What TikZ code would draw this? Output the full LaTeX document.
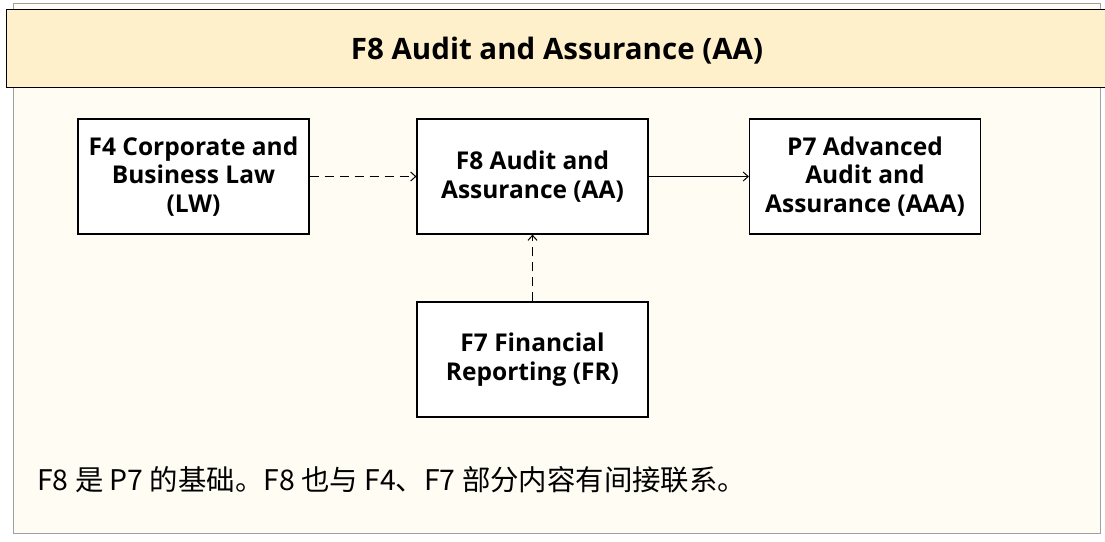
\documentclass[tikz,border=0pt]{standalone}
\usepackage{fontspec}
\setmainfont{Open Sans}
\newfontfamily\cjk{Noto Sans CJK SC}
\usetikzlibrary{arrows.meta}
\definecolor{titlefill}{HTML}{FFF0CC}
\definecolor{bodyfill}{HTML}{FFFCF4}
\definecolor{framegray}{HTML}{A0A0A0}
\tikzset{
  course/.style={draw=black, line width=1.2pt, fill=white, minimum width=231pt, minimum height=115pt,
    align=center, font=\bfseries\fontsize{24.5}{28.5}\selectfont, inner sep=0pt},
  link/.style={line width=1pt, -{Straight Barb[length=5pt,width=9pt]}},
  dashlink/.style={link, dash pattern=on 9pt off 6pt},
}
\begin{document}
\begin{tikzpicture}[x=1pt,y=-1pt]
\useasboundingbox (0,0) rectangle (1105,541);
\fill[white] (0,0) rectangle (1105,541);
\filldraw[fill=bodyfill, draw=framegray, line width=1pt] (13,3) rectangle (1100,533);
\filldraw[fill=titlefill, draw=black, line width=1pt] (6,9) rectangle (1110,87);
\node[font=\bfseries\fontsize{29.5}{34}\selectfont] (title) at (557,51) {F8 Audit and Assurance (AA)};
\node[course] (f4) at (193.5,176.5) {F4 Corporate and\\Business Law\\(LW)};
\node[course] (f8) at (532.5,176.5) {F8 Audit and\\Assurance (AA)};
\node[course] (p7) at (865,176.5) {P7 Advanced\\Audit and\\Assurance (AAA)};
\node[course] (f7) at (532.5,359.5) {F7 Financial\\Reporting (FR)};
\draw[dashlink] (f4.east) -- (f8.west);
\draw[link] (f8.east) -- (p7.west);
\draw[dashlink] (f7.north) -- (f8.south);
\node[anchor=west, inner sep=0pt] (note) at (37,480) {\cjk\fontsize{28.4}{33}\selectfont F8 是 P7 的基础。F8 也与 F4、F7 部分内容有间接联系。};
\end{tikzpicture}
\end{document}
